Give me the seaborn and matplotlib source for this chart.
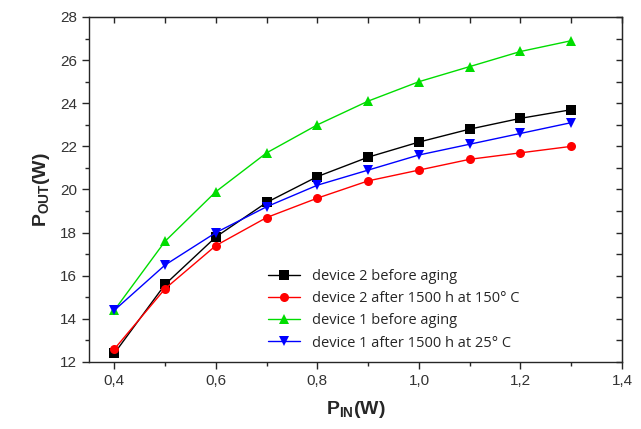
import numpy as np
import pandas as pd
import matplotlib
matplotlib.use("Agg")
import matplotlib.pyplot as plt
import seaborn as sns

p_in = [0.4, 0.5, 0.6, 0.7, 0.8, 0.9, 1.0, 1.1, 1.2, 1.3]
dev2_before = [12.4, 15.6, 17.8, 19.4, 20.6, 21.5, 22.2, 22.8, 23.3, 23.7]
dev2_after150 = [12.6, 15.4, 17.4, 18.7, 19.6, 20.4, 20.9, 21.4, 21.7, 22.0]
dev1_before = [14.4, 17.6, 19.9, 21.7, 23.0, 24.1, 25.0, 25.7, 26.4, 26.9]
dev1_after25 = [14.4, 16.5, 18.0, 19.2, 20.2, 20.9, 21.6, 22.1, 22.6, 23.1]

labels = ["device 2 before aging",
          "device 2 after 1500 h at 150° C",
          "device 1 before aging",
          "device 1 after 1500 h at 25° C"]
series = [dev2_before, dev2_after150, dev1_before, dev1_after25]
colors = ["#000000", "#ff0000", "#00dd00", "#0000ff"]
markers = ["s", "o", "^", "v"]

df = pd.DataFrame({
    "P_in": np.tile(p_in, len(series)),
    "P_out": np.concatenate(series),
    "series": np.repeat(labels, len(p_in)),
})

sns.set_style("ticks")
plt.rcParams['font.family'] = ['Liberation Sans', 'DejaVu Sans']
plt.rcParams['mathtext.fontset'] = 'custom'
plt.rcParams['mathtext.rm'] = 'Liberation Sans'
plt.rcParams['mathtext.bf'] = 'Liberation Sans:bold'
plt.rcParams['mathtext.it'] = 'Liberation Sans:italic'

fig = plt.figure(figsize=(6.41, 4.29), dpi=100)
ax = fig.add_axes([0.1388, 0.1562, 0.8316, 0.8042])

sns.lineplot(data=df, x="P_in", y="P_out", hue="series", style="series",
             hue_order=labels, style_order=labels, palette=colors,
             markers=markers, dashes=False, linewidth=1.0, markersize=6.5,
             markeredgewidth=0, ax=ax)

ax.set_xlim(0.35, 1.4)
ax.set_ylim(12, 28)
ax.set_xticks([0.4, 0.6, 0.8, 1.0, 1.2, 1.4])
ax.set_xticklabels(["0,4", "0,6", "0,8", "1,0", "1,2", "1,4"])
ax.set_xticks([0.5, 0.7, 0.9, 1.1, 1.3], minor=True)
ax.set_yticks([12, 14, 16, 18, 20, 22, 24, 26, 28])
ax.set_yticks(np.arange(13, 28, 2), minor=True)
ax.tick_params(axis="both", which="major", direction="out", length=5,
               width=1, labelsize=11, labelcolor="#333333")
ax.tick_params(axis="both", which="minor", direction="out", length=3, width=1)
for s in ax.spines.values():
    s.set_linewidth(1.0)

top = ax.secondary_xaxis("top")
top.set_xticks([0.4, 0.5, 0.6, 0.7, 0.8, 0.9, 1.0, 1.1, 1.2, 1.3, 1.4])
top.tick_params(direction="in", length=4, width=1, labeltop=False)
right = ax.secondary_yaxis("right")
right.set_yticks(np.arange(12, 29, 1))
right.tick_params(direction="in", length=4, width=1, labelright=False)

ax.set_xlabel(r"$\mathbf{P_{IN}(W)}$", fontsize=14, labelpad=8)
ax.set_ylabel(r"$\mathbf{P_{OUT}(W)}$", fontsize=14, labelpad=6)

leg = ax.legend(loc="lower left", bbox_to_anchor=(0.312, -0.005), frameon=False,
                handlelength=2.2, labelspacing=0.5,
                prop={"family": ["Open Sans", "DejaVu Sans"], "size": 10.5})

fig.savefig("out.png", dpi=100)
